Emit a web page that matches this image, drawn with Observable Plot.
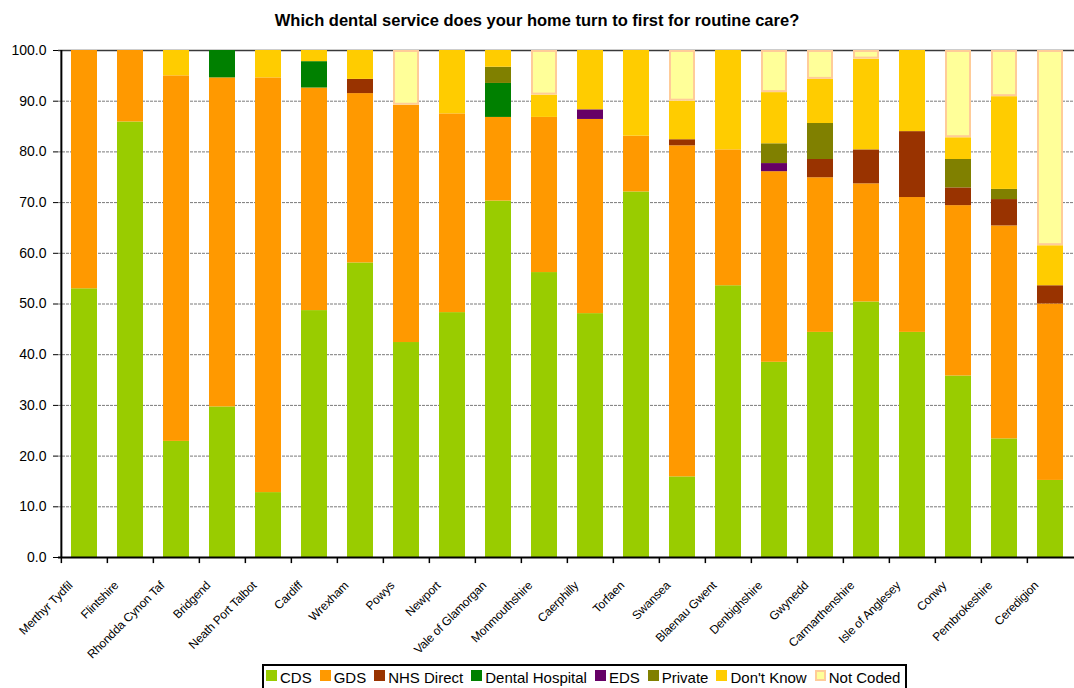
<!DOCTYPE html>
<html>
<head>
<meta charset="utf-8">
<script src="https://cdn.jsdelivr.net/npm/d3@7"></script>
<script src="https://cdn.jsdelivr.net/npm/@observablehq/plot@0.6"></script>
<style>
  body { margin: 0; background: #fff; font-family: Arial, "Liberation Sans", sans-serif; }
  #wrap { position: relative; width: 1074px; height: 688px; overflow: hidden; background: #fff; }
  #title { height: 40px; line-height: 40px; text-align: center; font-weight: bold; font-size: 16.5px; color: #000; }
  #chart svg { display: block; overflow: visible; font-family: Arial, "Liberation Sans", sans-serif; }
  #chart g[aria-label="text"] text { letter-spacing: -0.15px; }
  #legend { position: absolute; left: 262px; top: 664px; height: 26px; border: 2px solid #000; box-sizing: border-box;
            display: flex; align-items: center; padding: 0 5px 0 2px; font-size: 15px; color: #000; white-space: nowrap; }
  #legend .item { display: flex; align-items: center; margin-right: 8px; }
  #legend .item:last-child { margin-right: 0; }
  #legend .sw { width: 11px; height: 11px; margin-right: 3px; box-sizing: border-box; position: relative; top: -2px; }
</style>
</head>
<body>
<div id="wrap">
  <div id="title">Which dental service does your home turn to first for routine care?</div>
  <div id="chart"></div>
  <div id="legend"></div>
</div>
<script>
const categories = ["Merthyr Tydfil","Flintshire","Rhondda Cynon Taf","Bridgend","Neath Port Talbot","Cardiff","Wrexham","Powys","Newport","Vale of Glamorgan","Monmouthshire","Caerphilly","Torfaen","Swansea","Blaenau Gwent","Denbighshire","Gwynedd","Carmarthenshire","Isle of Anglesey","Conwy","Pembrokeshire","Ceredigion"];
const services = ["CDS","GDS","NHS Direct","Dental Hospital","EDS","Private","Don't Know","Not Coded"];
const colors = ["#99CC00","#FF9900","#993300","#008000","#660066","#808000","#FFCC00","#FFFF99"];

const cds            = [53.0,85.9,22.9,29.7,12.8,48.7,58.1,42.4,48.3,70.3,56.2,48.1,72.1,15.9,53.6,38.5,44.4,50.4,44.4,35.8,23.4,15.2];
const gds            = [47.0,14.1,72.1,64.9,81.8,43.9,33.4,46.8,39.2,16.5,30.6,38.3,11.0,65.3,26.8,37.6,30.5,23.3,26.6,33.6,42.0,34.8];
const nhsDirect      = [0,0,0,0,0,0,2.8,0,0,0,0,0,0,1.2,0,0,3.6,6.7,13.0,3.5,5.2,3.6];
const dentalHospital = [0,0,0,5.4,0,5.2,0,0,0,6.7,0,0,0,0,0,0,0,0,0,0,0,0];
const eds            = [0,0,0,0,0,0,0,0,0,0,0,1.9,0,0,0,1.6,0,0,0,0,0,0];
const privateCare    = [0,0,0,0,0,0,0,0,0,3.2,0,0,0,0,0,3.9,7.1,0,0,5.6,2.0,0];
const dontKnow       = [0,0,5.0,0,5.4,2.2,5.7,0,12.5,3.3,4.4,11.7,16.9,7.6,19.6,10.1,8.7,17.9,16.0,4.3,18.3,7.9];
const notCoded       = [0,0,0,0,0,0,0,10.8,0,0,8.8,0,0,10.0,0,8.3,5.7,1.7,0,17.2,9.1,38.5];

const yTicks = d3.range(0, 101, 10);

const seriesValues = [cds, gds, nhsDirect, dentalHospital, eds, privateCare, dontKnow, notCoded];
const rows = [];
categories.forEach((c, i) => {
  let acc = 0;
  services.forEach((s, j) => {
    const v = seriesValues[j][i];
    if (v > 0) rows.push({area: c, service: s, y1: acc, y2: Math.min(100, acc + v)});
    acc += v;
  });
});

const xRange = [58, 1076];
const step = (xRange[1] - xRange[0]) / categories.length;

const chart = Plot.plot({
  width: 1074,
  height: 620,
  marginTop: 10,
  marginBottom: 103,
  marginLeft: 58,
  marginRight: 0,
  style: {background: "#fff", color: "#000"},
  x: {domain: categories, range: xRange, paddingInner: 0.44, paddingOuter: 0.22, axis: null},
  y: {domain: [0, 100], axis: null},
  color: {domain: services, range: colors},
  marks: [
    Plot.ruleY(yTicks.filter(d => d > 0 && d < 100), {stroke: "#7a7a7a", strokeWidth: 1, strokeDasharray: "3,1"}),
    Plot.ruleY([100], {stroke: "#3a3a3a", strokeWidth: 1.5}),
    Plot.barY(rows, {x: "area", y1: "y1", y2: "y2", fill: "service"}),
    Plot.barY(rows.filter(d => d.service === "Not Coded"), {x: "area", y1: "y1", y2: "y2", fill: "#FFFF99", stroke: "#FFCC99", strokeWidth: 2, inset: 1}),
    Plot.ruleX(categories, {x: d => d, y1: 0, y2: -1.2, dx: -step / 2, stroke: "#000", strokeWidth: 1.5}),
    Plot.ruleY([0], {stroke: "#000", strokeWidth: 2}),
    Plot.ruleX([categories[0]], {x: d => d, y1: 0, y2: 100, dx: -step / 2, stroke: "#000", strokeWidth: 2}),
    Plot.axisY({ticks: yTicks, tickFormat: d3.format(".1f"), tickSize: 5, tickPadding: 7, fontSize: 14, label: null}),
    Plot.text(categories, {x: d => d, y: 0, text: d => d, rotate: -45, textAnchor: "end", dx: -14, dy: 26, fontSize: 12, fill: "#000"})
  ]
});
document.getElementById("chart").appendChild(chart);

const legend = document.getElementById("legend");
services.forEach((s, j) => {
  const item = document.createElement("div");
  item.className = "item";
  const sw = document.createElement("span");
  sw.className = "sw";
  sw.style.background = colors[j];
  if (s === "Not Coded") sw.style.border = "2px solid #FFCC99";
  const t = document.createElement("span");
  t.textContent = s;
  item.appendChild(sw);
  item.appendChild(t);
  legend.appendChild(item);
});
</script>
</body>
</html>
